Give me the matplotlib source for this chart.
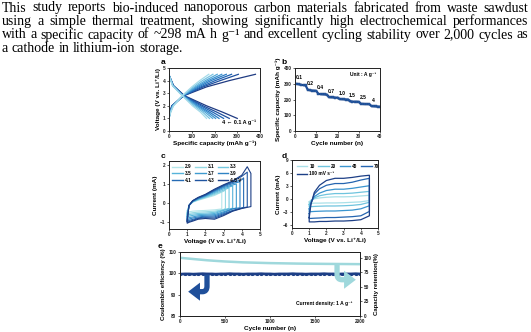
import matplotlib
matplotlib.use("Agg")
import matplotlib.pyplot as plt
from matplotlib.patches import FancyArrowPatch, PathPatch
from matplotlib.path import Path

W, H = 531, 332
SANS = ['Liberation Sans', 'DejaVu Sans']
SERIF = ['Liberation Serif', 'DejaVu Serif']

# ---------------- summary text ----------------
summary_lines = [
    "This study reports bio-induced nanoporous carbon materials fabricated from waste sawdust",
    "using a simple thermal treatment, showing significantly high electrochemical performances",
    "with a specific capacity of ~298 mA h g\u207b\u00b9 and excellent cycling stability over 2,000 cycles as",
    "a cathode in lithium-ion storage.",
]

# ---------------- (a) charge/discharge profiles ----------------
rates = ['0.1', '0.2', '0.4', '0.7', '1.0', '1.5', '2.5', '4']
rate_colors = ['#1f3b82', '#1f4f9e', '#2064b4', '#2a7bc4', '#3b91cf', '#55a9d9', '#78c3e2', '#a5dbe9']
charge_v = [1.0, 1.5, 2.0, 2.8, 3.5, 4.0, 4.5]
charge_cap = {
    '0.1': [0, 4, 12, 65, 165, 265, 380],
    '0.2': [0, 4, 13, 64, 150, 225, 305],
    '0.4': [0, 5, 14, 63, 140, 203, 275],
    '0.7': [0, 5, 15, 62, 130, 185, 252],
    '1.0': [0, 6, 16, 61, 122, 172, 232],
    '1.5': [0, 6, 17, 60, 115, 160, 212],
    '2.5': [0, 7, 18, 59, 107, 147, 193],
    '4':   [0, 8, 20, 58, 100, 135, 175],
}
discharge_v = [4.45, 3.6, 2.8, 2.0, 1.5, 1.0]
discharge_cap = {
    '0.1': [0, 20, 68, 165, 235, 300],
    '0.2': [0, 19, 66, 150, 210, 265],
    '0.4': [0, 18, 64, 140, 192, 240],
    '0.7': [0, 18, 62, 130, 178, 220],
    '1.0': [0, 17, 61, 124, 168, 205],
    '1.5': [0, 17, 60, 118, 158, 192],
    '2.5': [0, 16, 59, 110, 148, 178],
    '4':   [0, 15, 58, 103, 138, 165],
}

# ---------------- (b) rate capability ----------------
cycle_no = list(range(1, 41))
rate_capacity = [
    299, 296, 293, 291, 289,
    262, 259, 257, 256, 255,
    236, 234, 233, 232, 231,
    215, 214, 213, 212, 212,
    203, 202, 201, 200, 200,
    188, 187, 186, 186, 185,
    173, 172, 171, 171, 170,
    158, 157, 156, 155, 154,
]

# ---------------- (c) CV at different upper cut-off voltages ----------------
cutoffs = [2.9, 3.1, 3.3, 3.5, 3.7, 3.9, 4.1, 4.3, 4.5]
cutoff_labels = ['2.9', '3.1', '3.3', '3.5', '3.7', '3.9', '4.1', '4.3', '4.5 V']
cutoff_colors = ['#b5e6ea', '#95d9e3', '#74c8e0', '#56b3da', '#3f9bd0',
                 '#2f83c4', '#266bb4', '#2055a0', '#1d3f86']
cv_grid = [1.0, 1.1, 1.3, 1.6, 2.0, 2.5, 3.0, 3.5, 4.0, 4.3]
# anodic sweep: currents at grid points below the cut-off, then at the cut-off
cv_fwd = {
    2.9: [-0.40, -0.12, 0.05, 0.15, 0.26, 0.40, 0.58],
    3.1: [-0.48, -0.12, 0.06, 0.17, 0.29, 0.45, 0.62, 0.70],
    3.3: [-0.55, -0.12, 0.07, 0.19, 0.32, 0.50, 0.68, 0.80],
    3.5: [-0.62, -0.12, 0.08, 0.21, 0.35, 0.55, 0.75, 0.90],
    3.7: [-0.70, -0.12, 0.09, 0.23, 0.38, 0.60, 0.81, 0.95, 1.00],
    3.9: [-0.77, -0.12, 0.10, 0.25, 0.40, 0.64, 0.86, 1.02, 1.12],
    4.1: [-0.84, -0.12, 0.11, 0.27, 0.42, 0.67, 0.90, 1.08, 1.22, 1.32],
    4.3: [-0.90, -0.12, 0.12, 0.28, 0.44, 0.70, 0.93, 1.13, 1.40, 1.62],
    4.5: [-0.95, -0.12, 0.13, 0.30, 0.46, 0.73, 0.96, 1.16, 1.46, 1.90, 1.55],
}
# cathodic sweep: current at the cut-off, then back down the grid
cv_rev = {
    2.9: [-0.30, -0.35, -0.38, -0.40, -0.42, -0.45, -0.50],
    3.1: [-0.28, -0.33, -0.42, -0.45, -0.47, -0.50, -0.53, -0.58],
    3.3: [-0.27, -0.35, -0.48, -0.52, -0.54, -0.57, -0.60, -0.65],
    3.5: [-0.26, -0.38, -0.54, -0.58, -0.60, -0.64, -0.68, -0.72],
    3.7: [-0.25, -0.30, -0.45, -0.60, -0.63, -0.66, -0.72, -0.76, -0.80],
    3.9: [-0.24, -0.30, -0.50, -0.66, -0.68, -0.72, -0.78, -0.83, -0.87],
    4.1: [-0.22, -0.25, -0.38, -0.55, -0.72, -0.72, -0.77, -0.85, -0.90, -0.94],
    4.3: [-0.20, -0.26, -0.40, -0.60, -0.78, -0.76, -0.80, -0.90, -0.96, -1.00],
    4.5: [-0.18, -0.22, -0.28, -0.42, -0.65, -0.84, -0.80, -0.84, -0.94, -1.00, -1.05],
}

# ---------------- (d) CV at different scan rates ----------------
scan_rates = ['10', '20', '40', '70', '100']
scan_colors = ['#a9e0e8', '#6fc4de', '#3b95cf', '#2565b0', '#1d3f86']
scan_v = [1.0, 1.1, 1.3, 1.6, 2.0, 2.5, 3.0, 3.5, 4.0, 4.5]
scan_fwd = {
    '10':  [-0.6, -0.2, 0.1, 0.3, 0.45, 0.55, 0.55, 0.6, 0.75, 0.9],
    '20':  [-1.2, -0.4, 0.3, 0.8, 1.1, 1.3, 1.3, 1.4, 1.6, 1.8],
    '40':  [-2.2, -0.8, 0.6, 1.4, 2.0, 2.3, 2.3, 2.5, 2.8, 3.1],
    '70':  [-3.3, -1.0, 1.2, 2.4, 3.2, 3.6, 3.6, 3.9, 4.4, 4.8],
    '100': [-4.2, -1.2, 1.6, 3.2, 4.3, 4.8, 4.8, 5.0, 5.3, 5.5],
}
# cathodic currents from 4.5 V back down to 1.0 V
scan_rev = {
    '10':  [-0.3, -0.6, -0.7, -0.8, -0.85, -0.85, -0.9, -0.9, -0.95, -0.95],
    '20':  [-0.7, -1.2, -1.4, -1.5, -1.55, -1.55, -1.6, -1.65, -1.7, -1.7],
    '40':  [-1.5, -2.2, -2.5, -2.6, -2.7, -2.7, -2.75, -2.8, -2.85, -2.9],
    '70':  [-2.8, -3.8, -4.0, -4.1, -4.2, -4.2, -4.3, -4.35, -4.4, -4.4],
    '100': [-3.8, -4.7, -4.9, -5.0, -5.0, -5.1, -5.1, -5.2, -5.2, -5.2],
}

# ---------------- (e) long-term cycling ----------------
ce_cycles = [1, 50, 100, 150, 200, 250, 300, 350, 400, 450, 500, 550, 600, 650, 700,
             750, 800, 850, 900, 950, 1000, 1050, 1100, 1150, 1200, 1250, 1300, 1350,
             1400, 1450, 1500, 1550, 1600, 1650, 1700, 1750, 1800, 1850, 1900, 1950, 2000]
ce_values = [99.6, 99.7, 99.7, 99.6, 99.7, 99.8, 99.7, 99.7, 99.6, 99.7, 99.7, 99.8, 99.7,
             99.7, 99.6, 99.7, 99.7, 99.7, 99.8, 99.7, 99.7, 99.6, 99.7, 99.7, 99.7, 99.8,
             99.7, 99.7, 99.6, 99.7, 99.7, 99.7, 99.8, 99.7, 99.7, 99.6, 99.7, 99.7, 99.7,
             99.8, 99.7]
ret_cycles = [1, 100, 200, 300, 400, 500, 700, 1000, 1300, 1600, 2000]
ret_values = [100.0, 98.6, 97.2, 95.8, 94.7, 93.7, 92.2, 90.9, 90.1, 89.6, 89.1]

NAVY = '#1d3f86'
ARROW_BLUE = '#1f4f9a'
CYAN = '#9fd8dc'

fig = plt.figure(figsize=(W / 100, H / 100), dpi=100)


def px_axes(x0, y0, x1, y1):
    return fig.add_axes([x0 / W, 1 - y1 / H, (x1 - x0) / W, (y1 - y0) / H])


def style(ax):
    for s in ax.spines.values():
        s.set_linewidth(0.7)
        s.set_color('#222222')
    ax.tick_params(labelsize=3.4, width=0.5, length=1.5, pad=1, colors='#222222')
    for lab in ax.get_xticklabels() + ax.get_yticklabels():
        lab.set_family(SANS)
        lab.set_fontweight('bold')


def labels(ax, xl, yl, xpad=1.0, ypad=1.5, ysize=4.6):
    ax.set_xlabel(xl, fontsize=4.6, fontweight='bold', family=SANS, labelpad=xpad)
    ax.set_ylabel(yl, fontsize=ysize, fontweight='bold', family=SANS, labelpad=ypad)


def letter(x, y, s):
    fig.text(x / W, 1 - y / H, s, fontsize=6, fontweight='bold', family=SANS,
             ha='center', va='center')


# ---- summary text, justified ----
renderer = fig.canvas.get_renderer()
fs = 10.0
left_px, right_px = 2.0, 528.5
baselines = [11.5, 25.0, 38.5, 52.0]
probe = fig.text(0, 0, 'a a', fontsize=fs, family=SERIF)
probe2 = fig.text(0, 0, 'aa', fontsize=fs, family=SERIF)
space_w = probe.get_window_extent(renderer).width - probe2.get_window_extent(renderer).width
probe.remove()
probe2.remove()
for i, line in enumerate(summary_lines):
    words = line.split(' ')
    arts = [fig.text(0, 1 - baselines[i] / H, w, fontsize=fs, family=SERIF,
                     va='baseline', ha='left') for w in words]
    widths = [a.get_window_extent(renderer).width for a in arts]
    if i < len(summary_lines) - 1:
        gap = (right_px - left_px - sum(widths)) / (len(words) - 1)
    else:
        gap = space_w
    x = left_px
    for a, w in zip(arts, widths):
        a.set_x(x / W)
        x += w + gap

# ---- (a) ----
ax_a = px_axes(169, 68, 260, 131)
for r, c in zip(rates, rate_colors):
    ax_a.plot(charge_cap[r], charge_v, color=c, lw=0.9)
    ax_a.plot(discharge_cap[r], discharge_v, color=c, lw=0.9)
ax_a.set_xlim(0, 400)
ax_a.set_ylim(0, 5)
ax_a.set_xticks([0, 100, 200, 300, 400])
ax_a.set_yticks([0, 1, 2, 3, 4, 5])
ax_a.text(0.96, 0.14, '4 \u2190 0.1 A g\u207b\u00b9', transform=ax_a.transAxes, ha='right',
          va='center', fontsize=4.0, fontweight='bold', family=SANS)
style(ax_a)
labels(ax_a, 'Specific capacity (mAh g\u207b\u00b9)', 'Voltage (V vs. Li\u207a/Li)')
letter(163, 63, 'a')

# ---- (b) ----
ax_b = px_axes(295, 68, 380, 131)
ax_b.plot(cycle_no, rate_capacity, color='#1f4f9a', lw=1.6, marker='s', ms=1.6,
          mec='#173d7d', mfc='#2a62b0', mew=0.3)
ax_b.set_xlim(0, 40)
ax_b.set_ylim(0, 400)
ax_b.set_xticks([0, 10, 20, 30, 40])
ax_b.set_yticks([0, 100, 200, 300, 400])
for k, r in enumerate(rates):
    seg = rate_capacity[5 * k:5 * k + 5]
    ax_b.text(cycle_no[5 * k] + 1.0, max(seg) + 22, r, fontsize=3.6, fontweight='bold',
              family=SANS, ha='center', va='bottom')
ax_b.text(0.95, 0.93, 'Unit : A g\u207b\u00b9', transform=ax_b.transAxes, ha='right',
          va='top', fontsize=3.6, fontweight='bold', family=SANS)
style(ax_b)
labels(ax_b, 'Cycle number (n)', 'Specific capacity (mAh g\u207b\u00b9)')
letter(284, 63, 'b')

# ---- (c) ----
ax_c = px_axes(169, 161, 260, 229)
handles_c = {}
for cv, lab, col in zip(cutoffs, cutoff_labels, cutoff_colors):
    grid = [g for g in cv_grid if g < cv]
    v = grid + [cv] + [cv] + grid[::-1] + [grid[0]]
    i = cv_fwd[cv] + cv_rev[cv] + [cv_fwd[cv][0]]
    ln, = ax_c.plot(v, i, color=col, lw=0.8)
    handles_c[lab] = ln
ax_c.set_xlim(0, 5)
ax_c.set_ylim(-1.35, 2.2)
ax_c.set_xticks([0, 1, 2, 3, 4, 5])
ax_c.set_yticks([-1, 0, 1, 2])
order_c = ['2.9', '3.5', '4.1', '3.1', '3.7', '4.3', '3.3', '3.9', '4.5 V']
leg_c = ax_c.legend([handles_c[k] for k in order_c], order_c, ncol=3, loc='upper left',
                    frameon=False, handlelength=2.2, handletextpad=0.4,
                    columnspacing=0.8, labelspacing=0.35, borderaxespad=0.3,
                    prop={'family': SANS, 'weight': 'bold', 'size': 3.4})
for l in leg_c.get_lines():
    l.set_linewidth(1.0)
style(ax_c)
labels(ax_c, 'Voltage (V vs. Li\u207a/Li)', 'Current (mA)')
letter(163, 157, 'c')

# ---- (d) ----
ax_d = px_axes(292, 160, 378, 228)
handles_d = []
for r, col in zip(scan_rates, scan_colors):
    v = scan_v + scan_v[::-1] + [scan_v[0]]
    i = scan_fwd[r] + scan_rev[r] + [scan_fwd[r][0]]
    ln, = ax_d.plot(v, i, color=col, lw=0.9)
    handles_d.append(ln)
ax_d.set_xlim(0, 5)
ax_d.set_ylim(-6.6, 9)
ax_d.set_xticks([0, 1, 2, 3, 4, 5])
ax_d.set_yticks([-6, -3, 0, 3, 6, 9])
leg_prop = {'family': SANS, 'weight': 'bold', 'size': 3.4}
leg_d1 = ax_d.legend(handles_d[:4], scan_rates[:4], ncol=4, loc='upper left', frameon=False,
                     handlelength=2.2, handletextpad=0.4, columnspacing=0.8,
                     borderaxespad=0.3, bbox_to_anchor=(0.02, 0.99), prop=leg_prop)
ax_d.add_artist(leg_d1)
leg_d2 = ax_d.legend(handles_d[4:], ['100 mV s\u207b\u00b9'], loc='upper left', frameon=False,
                     handlelength=2.2, handletextpad=0.4, borderaxespad=0.3,
                     bbox_to_anchor=(0.02, 0.88), prop=leg_prop)
for lg in (leg_d1, leg_d2):
    for l in lg.get_lines():
        l.set_linewidth(1.0)
style(ax_d)
labels(ax_d, 'Voltage (V vs. Li\u207a/Li)', 'Current (mA)')
letter(284, 157, 'd')

# ---- (e) ----
ax_e = px_axes(180, 252, 360, 316)
ax_r = ax_e.twinx()
ax_r.plot(ret_cycles, ret_values, color=CYAN, lw=1.8, zorder=2)
ax_r.set_ylim(0, 110)
ax_r.set_yticks([0, 25, 50, 75, 100])
ax_e.set_zorder(ax_r.get_zorder() + 1)
ax_e.patch.set_visible(False)
ax_e.plot(ce_cycles, ce_values, color=NAVY, lw=2.0, marker='s', ms=1.2, mfc=NAVY, mec=NAVY)
ax_e.set_xlim(0, 2000)
ax_e.set_ylim(80, 110)
ax_e.set_xticks([0, 500, 1000, 1500, 2000])
ax_e.set_yticks([80, 90, 100, 110])

# bent arrows pointing to the matching axes
head = 'simple,head_width=2.6,head_length=1.7,tail_width=1.0'
body_dark = Path([(300, 99.4), (300, 94.0), (300, 91.4), (250, 91.4), (150, 91.4)],
                 [Path.MOVETO, Path.LINETO, Path.CURVE3, Path.CURVE3, Path.LINETO])
ax_e.add_patch(PathPatch(body_dark, fc='none', ec=ARROW_BLUE, lw=3.8, capstyle='butt',
                         joinstyle='round', zorder=3))
ax_e.add_patch(FancyArrowPatch((160, 91.4), (60, 91.4), arrowstyle=head, mutation_scale=5,
                               color=ARROW_BLUE, lw=0, zorder=3))
body_light = Path([(1745, 104.3), (1745, 99.5), (1745, 97.0), (1800, 97.0), (1870, 97.0)],
                  [Path.MOVETO, Path.LINETO, Path.CURVE3, Path.CURVE3, Path.LINETO])
ax_e.add_patch(PathPatch(body_light, fc='none', ec=CYAN, lw=3.8, capstyle='butt',
                         joinstyle='round', zorder=3))
ax_e.add_patch(FancyArrowPatch((1860, 97.0), (1985, 97.0), arrowstyle=head, mutation_scale=5,
                               color=CYAN, lw=0, zorder=3))
ax_e.text(0.96, 0.2, 'Current density: 1 A g\u207b\u00b9', transform=ax_e.transAxes,
          ha='right', va='center', fontsize=3.6, fontweight='bold', family=SANS)
style(ax_e)
style(ax_r)
labels(ax_e, 'Cycle number (n)', 'Coulombic efficiency (%)', ysize=4.3)
ax_r.set_ylabel('Capacity retention(%)', fontsize=4.3, fontweight='bold', family=SANS,
                labelpad=2)
letter(160, 246, 'e')

fig.savefig('out.png', dpi=100)
